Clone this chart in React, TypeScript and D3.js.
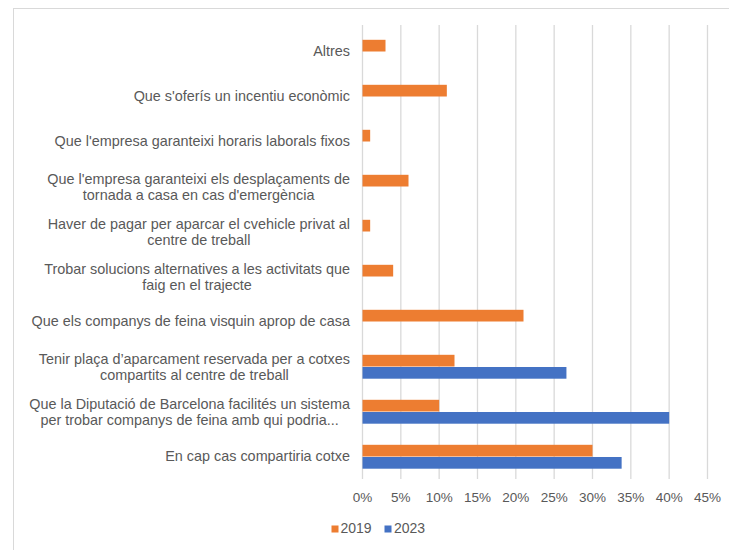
import React from "react";
import * as d3 from "d3";

const categories: string[][] = [
  ["Altres"],
  ["Que s'oferís un incentiu econòmic"],
  ["Que l'empresa garanteixi horaris laborals fixos"],
  ["Que l'empresa garanteixi els desplaçaments de", "tornada a casa en cas d'emergència"],
  ["Haver de pagar per aparcar el cvehicle privat al", "centre de treball"],
  ["Trobar solucions alternatives a les activitats que", "faig en el trajecte"],
  ["Que els companys de feina visquin aprop de casa"],
  ["Tenir plaça d\u2019aparcament reservada per a cotxes", "compartits al centre de treball"],
  ["Que la Diputació de Barcelona facilités un sistema", "per trobar companys de feina amb qui podria..."],
  ["En cap cas compartiria cotxe"],
];
const values2019: (number | null)[] = [0.03, 0.11, 0.01, 0.06, 0.01, 0.04, 0.21, 0.12, 0.10, 0.30];
const values2023: (number | null)[] = [null, null, null, null, null, null, null, 0.266, 0.40, 0.338];
const ticks: number[] = [0, 0.05, 0.1, 0.15, 0.2, 0.25, 0.3, 0.35, 0.4, 0.45];
const seriesNames = ["2019", "2023"];
const colors = ["#ED7D31", "#4472C4"];

const W = 729;
const H = 550;
const FONT = "'Liberation Sans', Arial, sans-serif";
const TEXT = "#595959";
const CAT_FS = 14.4;

export default function App() {
  const x = d3.scaleLinear().domain([0, 0.45]).range([362.5, 707.5]);
  const y = d3
    .scaleBand<number>()
    .domain(d3.range(categories.length))
    .range([29, 479])
    .paddingInner(0)
    .paddingOuter(0);
  const barH = 11.7;
  const fmt = d3.format(".0%");
  const labelRight = 350;

  return (
    <svg
      width={W}
      height={H}
      style={{ position: "absolute", left: 0, top: 0, background: "#fff" }}
      fontFamily={FONT}
    >
      <rect x={0} y={0} width={W} height={H} fill="#fff" />
      <rect x={13.5} y={8.5} width={W + 20} height={H + 20} fill="none" stroke="#d9d9d9" strokeWidth={1} />
      {ticks.map((t, i) => (
        <line key={"g" + i} x1={x(t)} x2={x(t)} y1={y.range()[0] - 4} y2={y.range()[1]} stroke="#d9d9d9" strokeWidth={1.3} />
      ))}
      {categories.map((c, i) => {
        const cy = (y(i) as number) + y.bandwidth() / 2;
        const v19 = values2019[i];
        const v23 = values2023[i];
        return (
          <g key={"c" + i}>
            {v19 != null && (
              <rect x={x(0)} y={cy - barH} width={x(v19) - x(0)} height={barH} fill={colors[0]} />
            )}
            {v23 != null && (
              <rect x={x(0)} y={cy + 0.5} width={x(v23) - x(0)} height={barH} fill={colors[1]} />
            )}
          </g>
        );
      })}
      {categories.map((lines, i) => {
        const cy = (y(i) as number) + y.bandwidth() / 2;
        if (lines.length === 1) {
          return (
            <text key={"l" + i} x={labelRight} y={cy - 1} dy="0.35em" textAnchor="end" fontSize={CAT_FS} fill={TEXT}>
              {lines[0]}
            </text>
          );
        }
        return <LabelBlock key={"l" + i} lines={lines} cy={cy} right={labelRight} />;
      })}
      {ticks.map((t, i) => (
        <text key={"t" + i} x={x(t)} y={497} dy="0.35em" textAnchor="middle" fontSize={13.5} fill={TEXT}>
          {fmt(t)}
        </text>
      ))}
      <g>
        <rect x={331.5} y={525.5} width={7} height={7} fill={colors[0]} />
        <text x={340.5} y={528.5} dy="0.35em" fontSize={14} fill={TEXT}>{seriesNames[0]}</text>
        <rect x={384.5} y={525.5} width={7} height={7} fill={colors[1]} />
        <text x={394} y={528.5} dy="0.35em" fontSize={14} fill={TEXT}>{seriesNames[1]}</text>
      </g>
    </svg>
  );
}

function LabelBlock({ lines, cy, right }: { lines: string[]; cy: number; right: number }) {
  const ref = React.useRef<SVGGElement>(null);
  const [widths, setWidths] = React.useState<number[] | null>(null);
  React.useLayoutEffect(() => {
    if (!ref.current) return;
    const ts = Array.from(ref.current.querySelectorAll("text")) as SVGTextElement[];
    setWidths(ts.map((t) => t.getComputedTextLength()));
  }, []);
  const maxW = widths ? Math.max(...widths) : 0;
  const center = right - maxW / 2;
  const lh = 16;
  return (
    <g ref={ref}>
      {lines.map((l, j) => (
        <text
          key={j}
          x={widths ? center : right}
          y={cy + (j - (lines.length - 1) / 2) * lh}
          dy="0.35em"
          textAnchor={widths ? "middle" : "end"}
          fontSize={CAT_FS}
          fill={TEXT}
        >
          {l}
        </text>
      ))}
    </g>
  );
}
